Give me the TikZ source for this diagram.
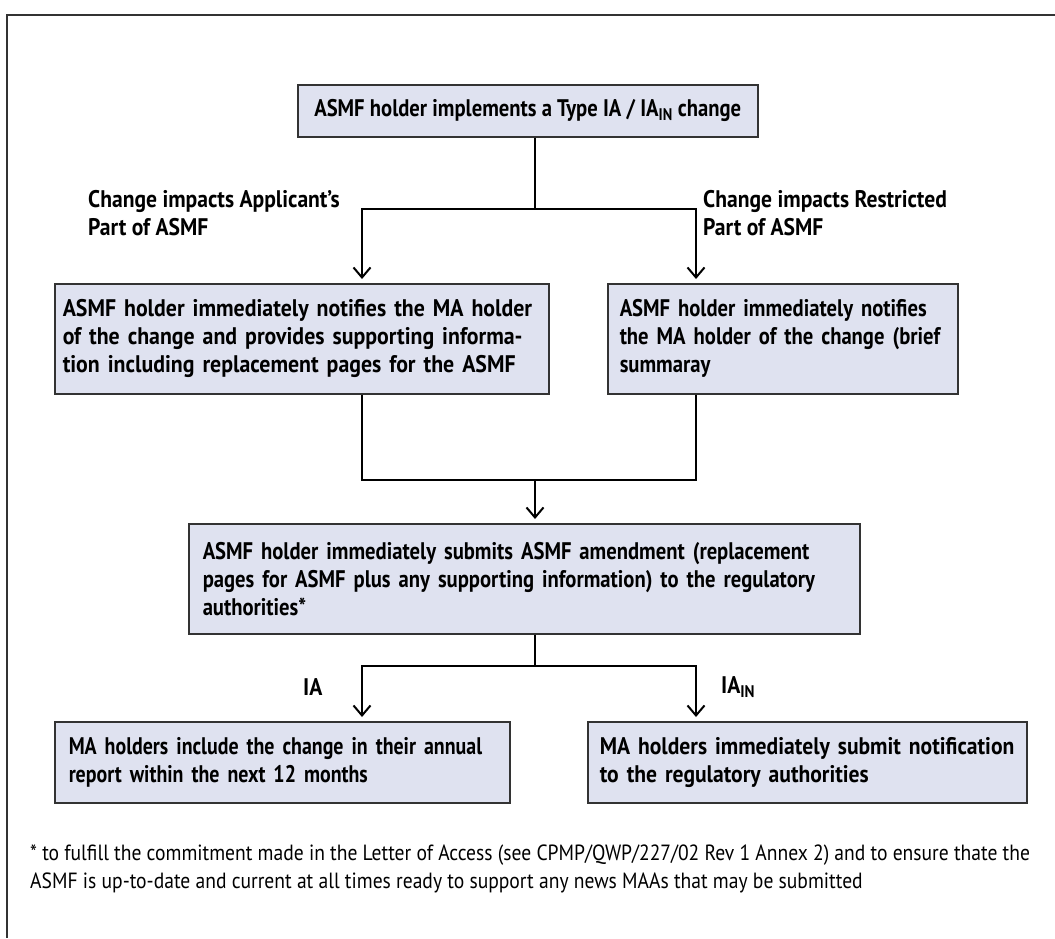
\documentclass[tikz,border=0pt]{standalone}
\usepackage{fontspec}
\setmainfont{PT Sans}[FakeStretch=0.89]
\newfontfamily\wideb{PT Sans}[FakeStretch=0.86]
\newfontfamily\narrowb{PT Sans}[FakeStretch=0.83]
\newfontfamily\leftb{PT Sans}[FakeStretch=0.91]
\newfontfamily\brb{PT Sans}[FakeStretch=0.90]
\newfontfamily\labelb{PT Sans}[FakeStretch=0.90]
\usetikzlibrary{arrows.meta,calc}
\definecolor{boxfill}{HTML}{DFE2F0}
\definecolor{boxline}{HTML}{333333}
\begin{document}
\begin{tikzpicture}[x=1pt,y=-1pt,
  box/.style={draw=boxline,line width=1.5pt,fill=boxfill,anchor=north west,inner ysep=0pt,inner xsep=14pt,align=left,font=\wideb\bfseries\fontsize{24}{28}\selectfont},
  nbox/.style={box,font=\narrowb\bfseries\fontsize{24}{28}\selectfont},
  conn/.style={line width=2pt,black},
  arr/.style={conn,-{Straight Barb[length=10pt,width=17pt,line width=2pt]},shorten >=4pt},
  lbl/.style={font=\labelb\bfseries\fontsize{24}{28}\selectfont,align=left,inner sep=0pt}]
\useasboundingbox (0,0) rectangle (1055,938);
\draw[line width=1.5pt,boxline] (1055,15) -- (7,15) -- (7,938);

\node[draw=boxline,line width=1.5pt,fill=boxfill,anchor=north west,inner sep=0pt,minimum width=460pt,minimum height=52pt,font=\wideb\bfseries\fontsize{24}{28}\selectfont] (top) at (297,84) {ASMF holder implements a Type IA / IA\textsubscript{IN} change};
\node[box,text width=478pt,inner xsep=8pt,minimum height=110pt,font=\leftb\bfseries\fontsize{24}{28}\selectfont] (left) at (54,283) {\mbox{ASMF holder immediately notifies the MA holder}\\\mbox{of the change and provides supporting informa-}\\\mbox{tion including replacement pages for the ASMF}};
\node[box,text width=336pt,inner xsep=7pt,minimum height=110pt] (right) at (607,283) {\hspace*{5pt}\mbox{ASMF holder immediately notifies}\\\hspace*{5pt}\mbox{the MA holder of the change (brief}\\\hspace*{5pt}summaray};
\node[box,text width=643pt,minimum height=110pt] (mid) at (188,523) {\mbox{ASMF holder immediately submits ASMF amendment (replacement}\\\mbox{pages for ASMF plus any supporting information) to the regulatory}\\authorities*};
\node[nbox,text width=427pt,minimum height=81pt] (bl) at (54,721) {\mbox{MA holders include the change in their annual}\\\mbox{report within the next 12 months}};
\node[box,text width=425pt,inner xsep=7pt,minimum height=81pt,font=\brb\bfseries\fontsize{24}{28}\selectfont] (br) at (587,721) {\hspace*{5pt}\mbox{MA holders immediately submit notification}\\\hspace*{5pt}\mbox{to the regulatory authorities}};

\node[lbl,anchor=west] (la) at (88,213) {Change impacts Applicant’s\\Part of ASMF};
\node[lbl,anchor=west] (lb) at (703,213) {Change impacts Restricted\\Part of ASMF};
\node[lbl,anchor=west] (lc) at (303,687) {IA};
\node[lbl,anchor=west] (ld) at (721,687) {IA\textsubscript{IN}};

\coordinate (xl) at (362,0);
\coordinate (xr) at (696,0);
\coordinate (xc) at (535,0);
\coordinate (c1) at (535,209);
\coordinate (c2) at (535,480);
\coordinate (c3) at (535,666);

\draw[conn] (top.south -| xc) -- (c1);
\draw[arr] (c1) -| (xl |- left.north);
\draw[arr] (c1) -| (xr |- right.north);
\draw[conn] (xl |- left.south) |- (c2);
\draw[conn] (xr |- right.south) |- (c2);
\draw[arr] (c2) -- (xc |- mid.north);
\draw[conn] (mid.south -| xc) -- (c3);
\draw[arr] (c3) -| (xl |- bl.north);
\draw[arr] (c3) -| (xr |- br.north);

\node[anchor=north west,align=left,inner sep=0pt,font=\fontsize{22}{28}\selectfont] (fn) at (30,845) {* to fulfill the commitment made in the Letter of Access (see CPMP/QWP/227/02 Rev 1 Annex 2) and to ensure thate the\\ASMF is up-to-date and current at all times ready to support any news MAAs that may be submitted};
\end{tikzpicture}
\end{document}
